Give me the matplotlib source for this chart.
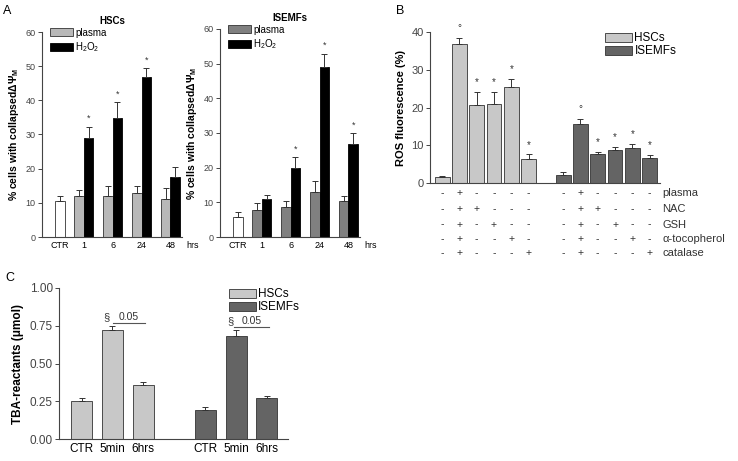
import matplotlib
matplotlib.use("Agg")
import matplotlib.pyplot as plt
import matplotlib.transforms as mtransforms
from matplotlib.patches import Patch

plt.rcParams['font.family'] = ['Liberation Sans', 'DejaVu Sans']
plt.rcParams['mathtext.fontset'] = 'custom'
plt.rcParams['mathtext.rm'] = 'Liberation Sans'
plt.rcParams['mathtext.bf'] = 'Liberation Sans:bold'
plt.rcParams['mathtext.it'] = 'Liberation Sans:italic'

# ---- panel A data (% cells with collapsed membrane potential)
a_ticks = ['CTR', '1', '6', '24', '48']
hsc_ctr, hsc_ctr_err = 10.6, 1.4
hsc_plasma = [11.9, 11.9, 12.8, 11.1]
hsc_plasma_err = [1.9, 3.1, 2.0, 3.1]
hsc_h2o2 = [28.9, 34.7, 46.7, 17.7]
hsc_h2o2_err = [3.4, 4.7, 2.7, 2.9]
hsc_star = [True, True, True, False]

isemf_ctr, isemf_ctr_err = 5.8, 1.3
isemf_plasma = [7.7, 8.7, 12.9, 10.3]
isemf_plasma_err = [2.1, 1.6, 3.2, 1.4]
isemf_h2o2 = [11.0, 19.9, 49.0, 26.9]
isemf_h2o2_err = [1.2, 3.1, 3.9, 3.0]
isemf_star = [False, True, True, True]

# ---- panel B data (ROS fluorescence %)
b_hsc = [1.7, 36.9, 20.6, 20.9, 25.5, 6.4]
b_hsc_err = [0.2, 1.6, 3.5, 3.2, 2.1, 1.2]
b_isemf = [2.2, 15.7, 7.6, 8.85, 9.4, 6.6]
b_isemf_err = [0.6, 1.3, 0.7, 0.75, 0.95, 0.9]
b_marks = ['', '°', '*', '*', '*', '*']
b_rows = ['plasma', 'NAC', 'GSH', 'α-tocopherol', 'catalase']
b_signs = [['-', '+', '-', '-', '-', '-'],
           ['-', '+', '+', '-', '-', '-'],
           ['-', '+', '-', '+', '-', '-'],
           ['-', '+', '-', '-', '+', '-'],
           ['-', '+', '-', '-', '-', '+']]

# ---- panel C data (TBA-reactants umol)
c_ticks = ['CTR', '5min', '6hrs']
c_hsc = [0.249, 0.724, 0.355]
c_hsc_err = [0.02, 0.022, 0.02]
c_isemf = [0.19, 0.684, 0.274]
c_isemf_err = [0.02, 0.04, 0.011]

W, H = 738, 461
fig = plt.figure(figsize=(W / 100, H / 100), dpi=100)


def px_axes(x0, y0, x1, y1):
    return fig.add_axes([x0 / W, 1 - y1 / H, (x1 - x0) / W, (y1 - y0) / H])


def clean(ax, fs):
    ax.spines['top'].set_visible(False)
    ax.spines['right'].set_visible(False)
    for s in ('left', 'bottom'):
        ax.spines[s].set_linewidth(0.8)
        ax.spines[s].set_color('#444444')
    ax.tick_params(axis='y', length=3, width=0.7, labelsize=fs, colors='#444444', pad=1.5)
    ax.tick_params(axis='x', length=0, labelsize=fs, pad=3)


def up_err(ax, x, y, e):
    ax.errorbar(x, y, yerr=[[0] * len(e), e], fmt='none', ecolor='#333333',
                elinewidth=0.7, capsize=2.5, capthick=0.7)


# ---------------- Panel A
def panel_a(box, title, ctr, ctr_err, plasma, plasma_err, h2o2, h2o2_err, stars, pcol):
    ax = px_axes(*box)
    clean(ax, 6.5)
    w = 0.33
    ctr_x = 0.17
    groups = [1, 2, 3, 4]
    ax.bar([ctr_x], [ctr], w, color='white', edgecolor='#333333', linewidth=0.6)
    up_err(ax, [ctr_x], [ctr], [ctr_err])
    px = [g - w / 2 for g in groups]
    hx = [g + w / 2 for g in groups]
    ax.bar(px, plasma, w, color=pcol, edgecolor='#333333', linewidth=0.6, label='plasma')
    ax.bar(hx, h2o2, w, color='black', edgecolor='black', linewidth=0.6, label='H$_2$O$_2$')
    up_err(ax, px, plasma, plasma_err)
    up_err(ax, hx, h2o2, h2o2_err)
    for x, v, e, s in zip(hx, h2o2, h2o2_err, stars):
        if s:
            ax.text(x, v + e + 1.0, '*', ha='center', va='bottom', fontsize=6.5, color='#333333')
    ax.set_xlim(-0.45, 4.4)
    ax.set_ylim(0, 60)
    ax.set_yticks([0, 10, 20, 30, 40, 50, 60])
    ax.set_xticks([ctr_x] + groups)
    ax.set_xticklabels(a_ticks)
    ax.annotate('hrs', xy=(4.55, 0), xycoords=mtransforms.blended_transform_factory(ax.transData, ax.transAxes),
                xytext=(0, -3), textcoords='offset points', ha='left', va='top', fontsize=6.5,
                annotation_clip=False)
    ax.set_title(title, fontsize=7, fontweight='bold', pad=6)
    ax.set_ylabel(r'% cells with collapsed$\mathbf{\Delta\Psi_M}$', fontsize=7.5,
                  fontweight='bold', labelpad=3)
    ax.legend(loc='upper left', bbox_to_anchor=(0.03, 1.04), fontsize=7, frameon=False,
              handlelength=2.4, handleheight=0.9, handletextpad=0.2, labelspacing=0.25,
              borderaxespad=0)
    return ax


panel_a((42, 32, 182, 237), 'HSCs', hsc_ctr, hsc_ctr_err, hsc_plasma, hsc_plasma_err,
        hsc_h2o2, hsc_h2o2_err, hsc_star, '#b8b8b8')
panel_a((220, 29, 360, 237), 'ISEMFs', isemf_ctr, isemf_ctr_err, isemf_plasma, isemf_plasma_err,
        isemf_h2o2, isemf_h2o2_err, isemf_star, '#808080')

# ---------------- Panel B
light, dark = '#c8c8c8', '#646464'
axb = px_axes(430, 32, 660, 183)
clean(axb, 8)
bw = 0.86
xh = list(range(6))
xi = [x + 7 for x in range(6)]
axb.bar(xh, b_hsc, bw, color=light, edgecolor='#333333', linewidth=0.6, label='HSCs')
axb.bar(xi, b_isemf, bw, color=dark, edgecolor='#333333', linewidth=0.6, label='ISEMFs')
up_err(axb, xh, b_hsc, b_hsc_err)
up_err(axb, xi, b_isemf, b_isemf_err)
for xs, vals, errs in ((xh, b_hsc, b_hsc_err), (xi, b_isemf, b_isemf_err)):
    for x, v, e, m in zip(xs, vals, errs, b_marks):
        if m:
            axb.text(x, v + e + 1.2, m, ha='center', va='bottom', fontsize=7, color='#333333')
axb.set_xlim(-0.7, 12.6)
axb.set_ylim(0, 40)
axb.set_yticks([0, 10, 20, 30, 40])
axb.set_xticks([])
axb.set_ylabel('ROS fluorescence (%)', fontsize=8, fontweight='bold', labelpad=4)
tr = mtransforms.blended_transform_factory(axb.transData, axb.transAxes)
row_y = [-0.068, -0.172, -0.275, -0.371, -0.464]
for ry, label, signs in zip(row_y, b_rows, b_signs):
    for xs in (xh, xi):
        for x, s in zip(xs, signs):
            axb.text(x, ry, s, transform=tr, ha='center', va='center', fontsize=7.5, color='#333333')
    axb.text(1.01, ry, label, transform=axb.transAxes, ha='left', va='center', fontsize=8,
             color='#333333')
axb.legend(loc='upper left', bbox_to_anchor=(0.74, 1.03), fontsize=8.5, frameon=False,
           handlelength=2.3, handleheight=0.8, handletextpad=0.2, labelspacing=0.1,
           borderaxespad=0)

# ---------------- Panel C
axc = px_axes(59, 288, 288, 439)
clean(axc, 8.5)
cw = 0.68
ch = [0, 1, 2]
ci = [4, 5, 6]
axc.bar(ch, c_hsc, cw, color=light, edgecolor='#333333', linewidth=0.6)
axc.bar(ci, c_isemf, cw, color=dark, edgecolor='#333333', linewidth=0.6)
up_err(axc, ch, c_hsc, c_hsc_err)
up_err(axc, ci, c_isemf, c_isemf_err)
axc.set_xlim(-0.73, 6.68)
axc.set_ylim(0, 1.0)
axc.set_yticks([0, 0.25, 0.5, 0.75, 1.0])
axc.set_yticklabels(['0.00', '0.25', '0.50', '0.75', '1.00'])
axc.set_xticks(ch + ci)
axc.set_xticklabels(c_ticks + c_ticks)
axc.set_ylabel('TBA-reactants (μmol)', fontsize=8.5, fontweight='bold', labelpad=4)
for sx, lx0, lx1, ly in ((0.82, 1.02, 2.05, 0.77), (4.81, 4.94, 6.06, 0.745)):
    axc.text(sx, ly + 0.005, '§', ha='center', va='bottom', fontsize=8, color='#333333')
    axc.plot([lx0, lx1], [ly, ly], color='#555555', linewidth=0.8)
    axc.text((lx0 + lx1) / 2, ly + 0.005, '0.05', ha='center', va='bottom', fontsize=7.5,
             color='#333333')
axc.legend(handles=[Patch(facecolor=light, edgecolor='#333333', linewidth=0.6, label='HSCs'),
                    Patch(facecolor=dark, edgecolor='#333333', linewidth=0.6, label='ISEMFs')],
           loc='upper left', bbox_to_anchor=(0.72, 1.03), fontsize=8.5, frameon=False,
           handlelength=2.3, handleheight=0.8, handletextpad=0.2, labelspacing=0.1,
           borderaxespad=0)

# panel letters
fig.text(3 / W, 1 - 11 / H, 'A', fontsize=9, va='center', ha='left')
fig.text(396 / W, 1 - 11 / H, 'B', fontsize=9, va='center', ha='left')
fig.text(5 / W, 1 - 278 / H, 'C', fontsize=9, va='center', ha='left')

fig.savefig('out.png', dpi=100)
